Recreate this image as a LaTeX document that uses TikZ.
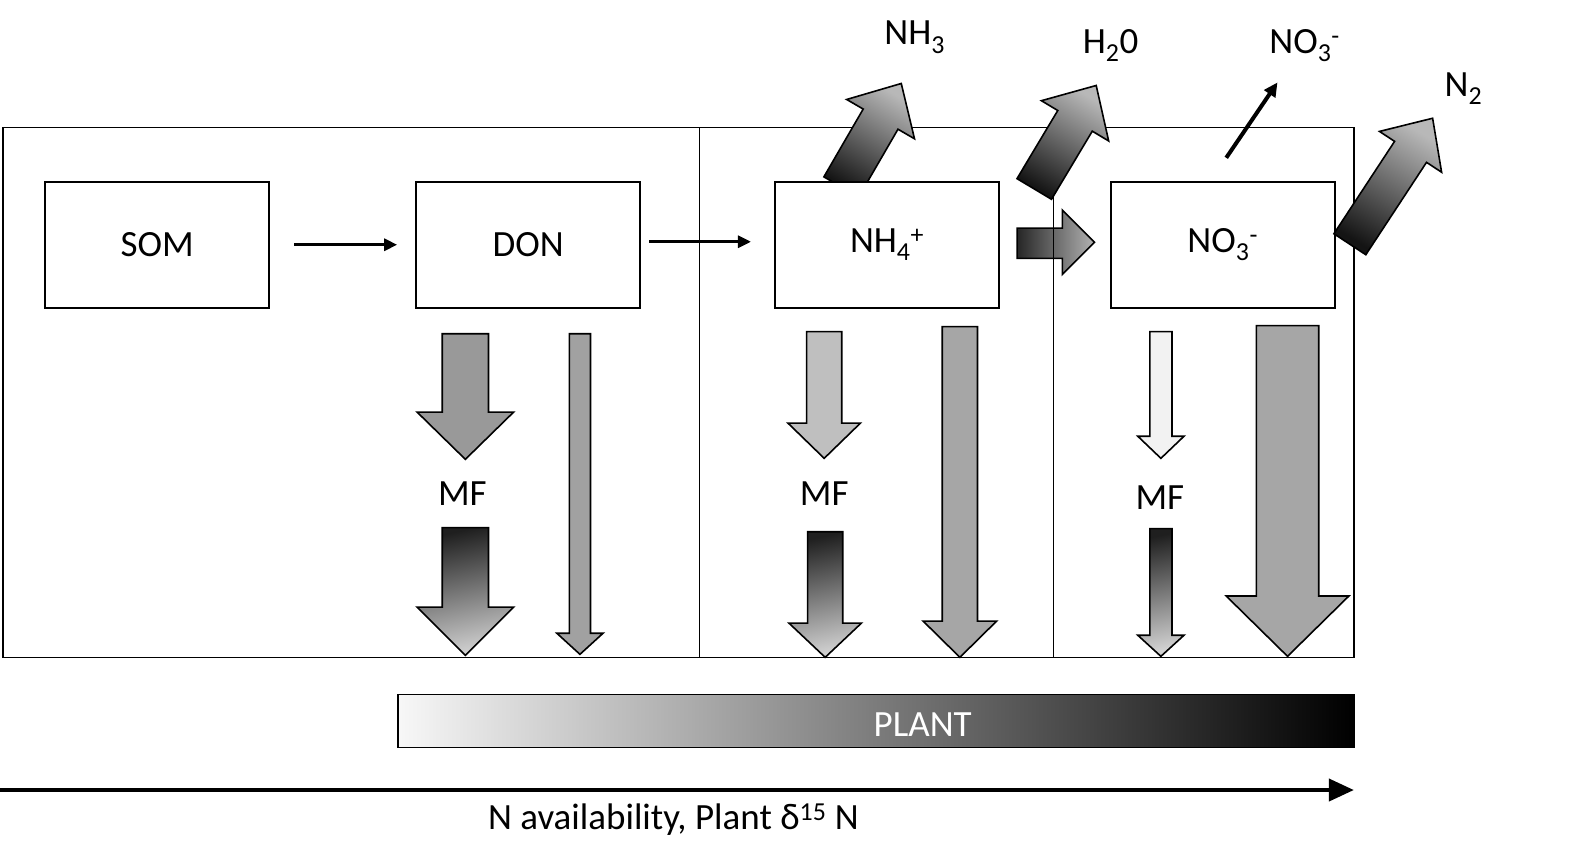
\documentclass[tikz,border=0pt]{standalone}
\usepackage{fontspec}
\setmainfont{Carlito}
\usetikzlibrary{arrows.meta,calc}
\newcommand{\dnarrow}[7]{% #1 style, #2 cx, #3 top, #4 shaft half, #5 head top, #6 head half, #7 tip
  \path[#1] ({#2-#4},#3) -- ({#2+#4},#3) -- ({#2+#4},#5) -- ({#2+#6},#5) -- (#2,#7) -- ({#2-#6},#5) -- ({#2-#4},#5) -- cycle;}
\newcommand{\diagarrow}[7]{% #1 style, #2 base, #3 angle, #4 length, #5 shaft half, #6 head half, #7 head length
  \path[#1] ($(#2)+({#3+90}:#5)$) -- ($(#2)+({#3+90}:#5)+({#3}:{#4-#7})$) -- ($(#2)+({#3+90}:#6)+({#3}:{#4-#7})$) -- ($(#2)+({#3}:#4)$) -- ($(#2)+({#3-90}:#6)+({#3}:{#4-#7})$) -- ($(#2)+({#3-90}:#5)+({#3}:{#4-#7})$) -- ($(#2)+({#3-90}:#5)$) -- cycle;}
\begin{document}
\begin{tikzpicture}[x=1.005pt,y=-1.005pt,
  lbl/.style={font=\fontsize{37}{44}\selectfont, inner sep=0pt},
  box/.style={draw, fill=white, line width=2pt, minimum width=224pt, minimum height=126pt, inner sep=0pt, font=\fontsize{37}{44}\selectfont},
  blk/.style={draw, line width=1.6pt, line join=miter},
  thinarr/.style={line width=3pt, -{Triangle[length=13pt,width=12pt]}},
  diagshade/.style={blk, top color=black!28, bottom color=black!92, shading angle=-31},
  mfgrad/.style={blk, top color=black!88, bottom color=black!18, shading angle=12}]
\useasboundingbox (0,0) rectangle (1569,861);
% frame
\draw[line width=1.5pt] (3,127) rectangle (1347,654);
% NH3 arrow (behind the NH4 box)
\coordinate (nh3base) at (837,186);
\diagarrow{diagshade}{nh3base}{-59.9}{119}{20}{39}{41}
% boxes
\node[box] (som) at (156.5,243.5) {SOM};
\node[box] (don) at (525.5,243.5) {DON};
\node[box] (nh4) at (882.5,243.5) {NH\textsubscript{4}\textsuperscript{+}};
\node[box] (no3) at (1216.5,243.5) {NO\textsubscript{3}\textsuperscript{-}};
% thin arrows between boxes
\draw[thinarr, shorten <=24pt, shorten >=18pt] (som.east) -- (don.west);
\draw[thinarr, shorten <=8pt, shorten >=23pt] ([yshift=3pt]don.east) -- ([yshift=3pt]nh4.west);
% block arrow NH4 -> NO3
\path[blk, left color=black!85, right color=black!30] (1012,227) -- (1057,227) -- (1057,209) -- (1089,241) -- (1057,273) -- (1057,257) -- (1012,257) -- cycle;
% dividers
\draw[line width=1pt] (696,127) -- (696,654);
\draw[line width=1pt] (1048,127) -- (1048,654);
% diagonal arrows
\coordinate (h2obase) at (1029,188);
\coordinate (n2base) at (1343,243);
\diagarrow{diagshade}{h2obase}{-59.1}{120}{20}{39}{41}
\diagarrow{diagshade}{n2base}{-56.7}{150}{19}{37}{40}
% thin NO3 leaching arrow
\coordinate (lchs) at (1220,157);
\coordinate (lche) at (1271,82);
\draw[line width=4pt, -{Triangle[length=14pt,width=13pt]}] (lchs) -- (lche);
% top labels
\node[lbl] (nh3) at (910,37) {NH\textsubscript{3}};
\node[lbl] (h2o) at (1105,45) {H\textsubscript{2}0};
\node[lbl] (no3out) at (1298,45) {NO\textsubscript{3}\textsuperscript{-}};
\node[lbl] (n2) at (1456,88) {N\textsubscript{2}};
% downward arrows, DON column
\dnarrow{blk, fill=black!40}{463}{332}{23}{410}{48}{457}
\dnarrow{mfgrad}{463}{525}{23}{604}{48}{652}
\dnarrow{blk, fill=black!37}{577}{332}{10.5}{630}{23}{651}
\node[lbl] (mf1) at (460,491) {MF};
% NH4 column
\dnarrow{blk, fill=black!25}{820}{330}{17.5}{421}{36}{456}
\dnarrow{mfgrad}{821}{529}{17.5}{620}{36}{654}
\dnarrow{blk, fill=black!35}{955}{325}{17.5}{618}{36.5}{654}
\node[lbl] (mf2) at (820,491) {MF};
% NO3 column
\dnarrow{blk, fill=black!5}{1155}{330}{11}{434}{23}{456}
\dnarrow{mfgrad}{1155}{526}{11}{632}{23}{653}
\dnarrow{blk, fill=black!35}{1281}{324}{31}{593}{61}{653}
\node[lbl] (mf3) at (1154,495) {MF};
% plant bar
\node[draw, line width=1.5pt, minimum width=956pt, minimum height=53pt, inner sep=0pt, left color=black!3, right color=black] (bar) at (871.5,717.5) {};
\node[lbl, text=white] (plant) at (918,721) {PLANT};
% axis
\coordinate (axs) at (0,786);
\coordinate (axe) at (1347,786);
\draw[line width=4pt, -{Triangle[length=25pt,width=22pt]}] (axs) -- (axe);
\node[lbl] (axlbl) at (670,815) {N availability, Plant δ\textsuperscript{15} N};
\end{tikzpicture}
\end{document}
